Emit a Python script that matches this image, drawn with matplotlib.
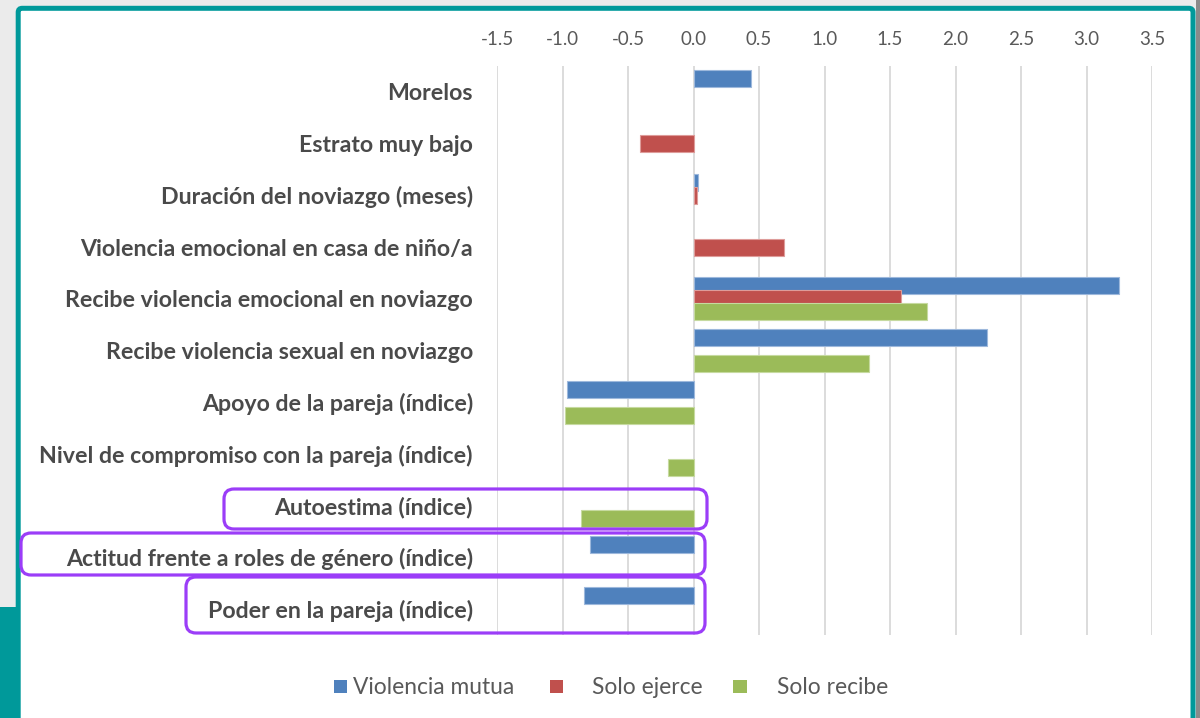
import matplotlib
matplotlib.use('Agg')
import matplotlib.pyplot as plt
import numpy as np
from matplotlib.patches import FancyBboxPatch, Rectangle
from matplotlib.transforms import IdentityTransform

nan = np.nan
categories = [
    'Morelos',
    'Estrato muy bajo',
    'Duración del noviazgo (meses)',
    'Violencia emocional en casa de niño/a',
    'Recibe violencia emocional en noviazgo',
    'Recibe violencia sexual en noviazgo',
    'Apoyo de la pareja (índice)',
    'Nivel de compromiso con la pareja (índice)',
    'Autoestima (índice)',
    'Actitud frente a roles de género (índice)',
    'Poder en la pareja (índice)',
]
series_names = ['Violencia mutua', 'Solo ejerce', 'Solo recibe']
violencia_mutua = [0.44, nan, 0.035, nan, 3.25, 2.24, -0.965, nan, nan, -0.79, -0.835]
solo_ejerce = [nan, -0.41, 0.025, 0.69, 1.585, nan, nan, nan, nan, nan, nan]
solo_recibe = [nan, nan, nan, nan, 1.78, 1.34, -0.98, -0.195, -0.86, nan, nan]
x_ticks = [-1.5, -1.0, -0.5, 0.0, 0.5, 1.0, 1.5, 2.0, 2.5, 3.0, 3.5]
x_tick_labels = ['-1.5', '-1.0', '-0.5', '0.0', '0.5', '1.0', '1.5', '2.0', '2.5', '3.0', '3.5']

colors = ['#4F81BD', '#C0504D', '#9BBB59']
edge_colors = ['#9DB8DC', '#DE9C9A', '#C6DAA0']
TEAL = '#00999A'
PURPLE = '#9B3DF8'
TEXT = '#4A4A4A'

W, H = 1200, 718
fig = plt.figure(figsize=(W / 100, H / 100), dpi=100, facecolor='#ebebeb')
ident = IdentityTransform()


def px_rect(x0, y0, x1, y1, **kw):
    # rectangle in image pixel coords (y from top)
    return Rectangle((x0, H - y1), x1 - x0, y1 - y0, transform=ident, **kw)


# slide decorations
fig.add_artist(px_rect(1196, 0, 1200, 718, facecolor='#8a8a8a', edgecolor='none', zorder=0))
fig.add_artist(px_rect(0, 607, 21, 718, facecolor=TEAL, edgecolor='none', zorder=0))
frame = FancyBboxPatch((18.2, -20), 1193 - 18.2, (H - 8.3) + 20,
                       boxstyle='round,pad=0,rounding_size=4', transform=ident,
                       facecolor='white', edgecolor=TEAL, linewidth=3.6, zorder=0.5)
fig.add_artist(frame)

# axes
ax = fig.add_axes([497 / W, 1 - 635 / H, (1152 - 497) / W, (635 - 66) / H])
ax.set_facecolor('none')
ax.set_zorder(2)
y = np.arange(len(categories))
offsets = [-0.255, 0.0, 0.255]
bar_h = 0.33
for i, (vals, c, ec) in enumerate(zip([violencia_mutua, solo_ejerce, solo_recibe], colors, edge_colors)):
    v = np.array(vals, dtype=float)
    m = ~np.isnan(v)
    ax.barh(y[m] + offsets[i], v[m], height=bar_h, color=c, edgecolor=ec,
            linewidth=0.8, zorder=3 + i, label=series_names[i])

ax.set_xlim(-1.5, 3.5)
ax.set_ylim(len(categories) - 0.5, -0.5)
ax.set_xticks(x_ticks)
ax.set_xticklabels(x_tick_labels)
ax.xaxis.tick_top()
ax.xaxis.grid(True, color='#d9d9d9', linewidth=1.3, zorder=0)
ax.set_axisbelow(True)
ax.set_yticks(y)
ax.set_yticklabels(categories)
for s in ax.spines.values():
    s.set_visible(False)
ax.tick_params(axis='x', length=0, pad=13, labelsize=15, labelcolor='#595959')
ax.tick_params(axis='y', length=0, pad=17.3, labelsize=15, labelcolor=TEXT)
for t in ax.get_xticklabels():
    t.set_fontfamily('Lato')
for t in ax.get_yticklabels():
    t.set_fontfamily('Lato')
    t.set_fontweight('bold')

# legend (manual layout, Excel-like)
leg_sq = [(334, 347), (550, 563), (733, 747)]
leg_tx = [353, 592, 777]
leg_y = 686
leg_texts = []
for (a, b), tx, name, c in zip(leg_sq, leg_tx, series_names, colors):
    fig.add_artist(px_rect(a, leg_y - 6.5, b, leg_y + 6.5, facecolor=c, edgecolor='none', zorder=3))
    t = fig.text(tx / W, 1 - leg_y / H, name, ha='left', va='center_baseline',
                 fontsize=15, color='#595959', family='Lato')
    leg_texts.append(t)

# purple highlight boxes
boxes = [(224, 489, 707, 529), (21, 533, 705, 575), (186, 577, 705, 633)]
for x0, y0, x1, y1 in boxes:
    fig.add_artist(FancyBboxPatch((x0, H - y1), x1 - x0, y1 - y0,
                                  boxstyle='round,pad=0,rounding_size=10', transform=ident,
                                  facecolor='none', edgecolor=PURPLE, linewidth=2.3, zorder=10))

# fit font sizes to measured widths
fig.canvas.draw()
r = fig.canvas.get_renderer()


def fit(texts, target):
    w = max(t.get_window_extent(r).width for t in texts)
    s = texts[0].get_fontsize() * target / w
    for t in texts:
        t.set_fontsize(s)


fit(ax.get_yticklabels(), 436)
fit([ax.get_xticklabels()[0]], 33)
xs = ax.get_xticklabels()[0].get_fontsize()
for t in ax.get_xticklabels():
    t.set_fontsize(xs)
fit([leg_texts[0]], 161)
ls = leg_texts[0].get_fontsize()
for t in leg_texts:
    t.set_fontsize(ls)

fig.savefig('out.png', dpi=100, facecolor=fig.get_facecolor())
